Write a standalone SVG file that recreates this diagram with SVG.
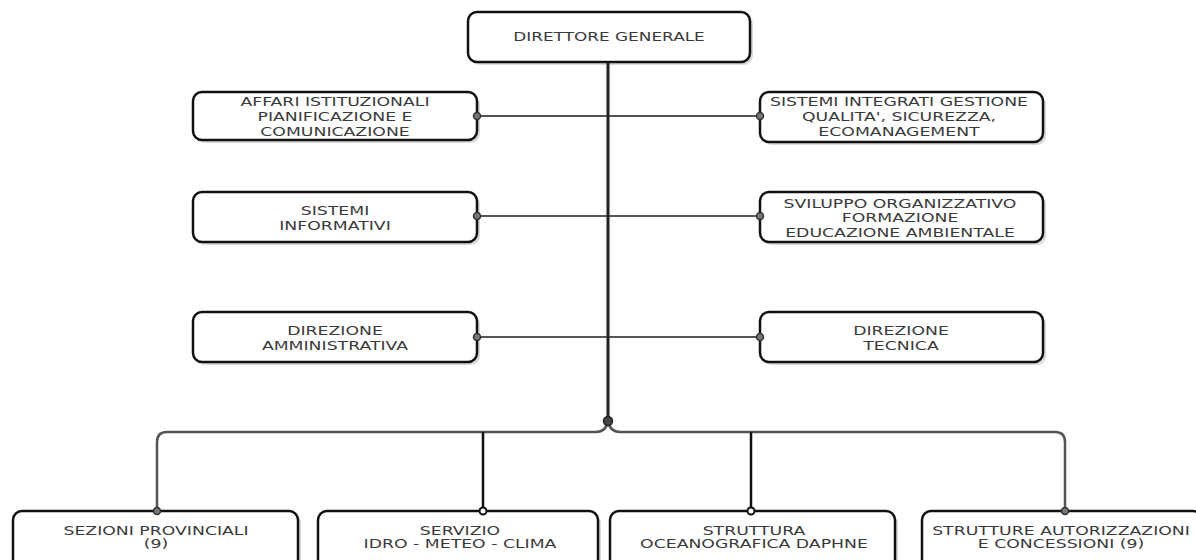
<svg xmlns="http://www.w3.org/2000/svg" width="1196" height="560" viewBox="0 0 1196 560">
<defs>
<style>
.box{fill:#fff;stroke:#111;stroke-width:2.5}
.sh{fill:#000;opacity:0.15}
.t{font-family:"DejaVu Sans",Verdana,sans-serif;font-size:13px;fill:#3a3a3a;text-anchor:middle}
.trunk{fill:none;stroke:#222;stroke-width:3}
.side{fill:none;stroke:#555;stroke-width:2}
.bus{fill:none;stroke:#555;stroke-width:2.5}
.drop{fill:none;stroke:#111;stroke-width:2.5}
.dotg{fill:#777;stroke:#333;stroke-width:1.5}
.doth{fill:#fff;stroke:#111;stroke-width:2}
</style>
</defs>
<rect width="1196" height="560" fill="#fff"/>
<g id="n-direttore">
<rect class="sh" x="471" y="15" width="282" height="50" rx="9"/>
<rect class="box" x="468" y="12" width="282" height="50" rx="9"/>
<text class="t" transform="translate(609 0) scale(1.3 1)" x="0" y="41.5">DIRETTORE GENERALE</text>
</g>
<g id="n-affari">
<rect class="sh" x="196" y="95" width="284" height="48" rx="9"/>
<rect class="box" x="193" y="92" width="284" height="48" rx="9"/>
<text class="t" transform="translate(335 0) scale(1.33 1)" x="0" y="106.5">AFFARI ISTITUZIONALI<tspan x="0" y="121.5">PIANIFICAZIONE E</tspan><tspan x="0" y="136.5">COMUNICAZIONE</tspan></text>
</g>
<g id="n-sistemi-integrati">
<rect class="sh" x="763" y="95" width="283" height="50" rx="9"/>
<rect class="box" x="760" y="92" width="283" height="50" rx="9"/>
<text class="t" transform="translate(899 0) scale(1.33 1)" x="0" y="106.5">SISTEMI INTEGRATI GESTIONE<tspan x="0" y="121.5">QUALITA', SICUREZZA,</tspan><tspan x="0" y="136.5">ECOMANAGEMENT</tspan></text>
</g>
<g id="n-sistemi-informativi">
<rect class="sh" x="196" y="195" width="284" height="50" rx="9"/>
<rect class="box" x="193" y="192" width="284" height="50" rx="9"/>
<text class="t" transform="translate(335 0) scale(1.33 1)" x="0" y="215">SISTEMI<tspan x="0" y="230">INFORMATIVI</tspan></text>
</g>
<g id="n-sviluppo">
<rect class="sh" x="763" y="195" width="283" height="50" rx="9"/>
<rect class="box" x="760" y="192" width="283" height="50" rx="9"/>
<text class="t" transform="translate(900 0) scale(1.33 1)" x="0" y="208">SVILUPPO ORGANIZZATIVO<tspan x="0" y="222.5">FORMAZIONE</tspan><tspan x="0" y="237">EDUCAZIONE AMBIENTALE</tspan></text>
</g>
<g id="n-dir-amm">
<rect class="sh" x="196" y="315" width="284" height="50" rx="9"/>
<rect class="box" x="193" y="312" width="284" height="50" rx="9"/>
<text class="t" transform="translate(335 0) scale(1.33 1)" x="0" y="335">DIREZIONE<tspan x="0" y="350">AMMINISTRATIVA</tspan></text>
</g>
<g id="n-dir-tec">
<rect class="sh" x="763" y="315" width="283" height="50" rx="9"/>
<rect class="box" x="760" y="312" width="283" height="50" rx="9"/>
<text class="t" transform="translate(901 0) scale(1.33 1)" x="0" y="335">DIREZIONE<tspan x="0" y="350">TECNICA</tspan></text>
</g>
<g id="n-sezioni">
<rect class="sh" x="16" y="514" width="285" height="60" rx="9"/>
<rect class="box" x="13" y="511" width="285" height="60" rx="9"/>
<text class="t" transform="translate(156 0) scale(1.33 1)" x="0" y="535">SEZIONI PROVINCIALI<tspan x="0" y="548.5">(9)</tspan></text>
</g>
<g id="n-servizio">
<rect class="sh" x="321" y="514" width="280" height="60" rx="9"/>
<rect class="box" x="318" y="511" width="280" height="60" rx="9"/>
<text class="t" transform="translate(460 0) scale(1.33 1)" x="0" y="535">SERVIZIO<tspan x="0" y="548.5">IDRO - METEO - CLIMA</tspan></text>
</g>
<g id="n-struttura">
<rect class="sh" x="613" y="514" width="285" height="60" rx="9"/>
<rect class="box" x="610" y="511" width="285" height="60" rx="9"/>
<text class="t" transform="translate(754 0) scale(1.33 1)" x="0" y="535">STRUTTURA<tspan x="0" y="548.5">OCEANOGRAFICA DAPHNE</tspan></text>
</g>
<g id="n-strutture-aut">
<rect class="sh" x="925" y="514" width="280" height="60" rx="9"/>
<rect class="box" x="922" y="511" width="280" height="60" rx="9"/>
<text class="t" transform="translate(1061 0) scale(1.33 1)" x="0" y="535">STRUTTURE AUTORIZZAZIONI<tspan x="0" y="548.5">E CONCESSIONI (9)</tspan></text>
</g>
<g id="connectors">
<path class="side" d="M477 116 H760"/>
<path class="side" d="M477 216 H760"/>
<path class="side" d="M477 337 H760"/>
<path class="trunk" d="M608 63 V421"/>
<path class="bus" d="M608 421 Q606 432 596 432 H167 Q157 432 157 442 V511"/>
<path class="bus" d="M608 421 Q610 432 620 432 H1055 Q1065 432 1065 442 V511"/>
<path class="drop" d="M483 432 V511"/>
<path class="drop" d="M751 432 V511"/>
<circle class="dotg" cx="477" cy="116" r="3.5"/>
<circle class="dotg" cx="760" cy="116" r="3.5"/>
<circle class="dotg" cx="477" cy="216" r="3.5"/>
<circle class="dotg" cx="760" cy="216" r="3.5"/>
<circle class="dotg" cx="477" cy="337" r="3.5"/>
<circle class="dotg" cx="760" cy="337" r="3.5"/>
<circle cx="608" cy="421" r="4.5" fill="#444" stroke="#222" stroke-width="1.5"/>
<circle class="dotg" cx="157" cy="511" r="3.5"/>
<circle class="doth" cx="483" cy="511" r="3.5"/>
<circle class="doth" cx="751" cy="511" r="3.5"/>
<circle class="dotg" cx="1065" cy="511" r="3.5"/>
</g>
</svg>
